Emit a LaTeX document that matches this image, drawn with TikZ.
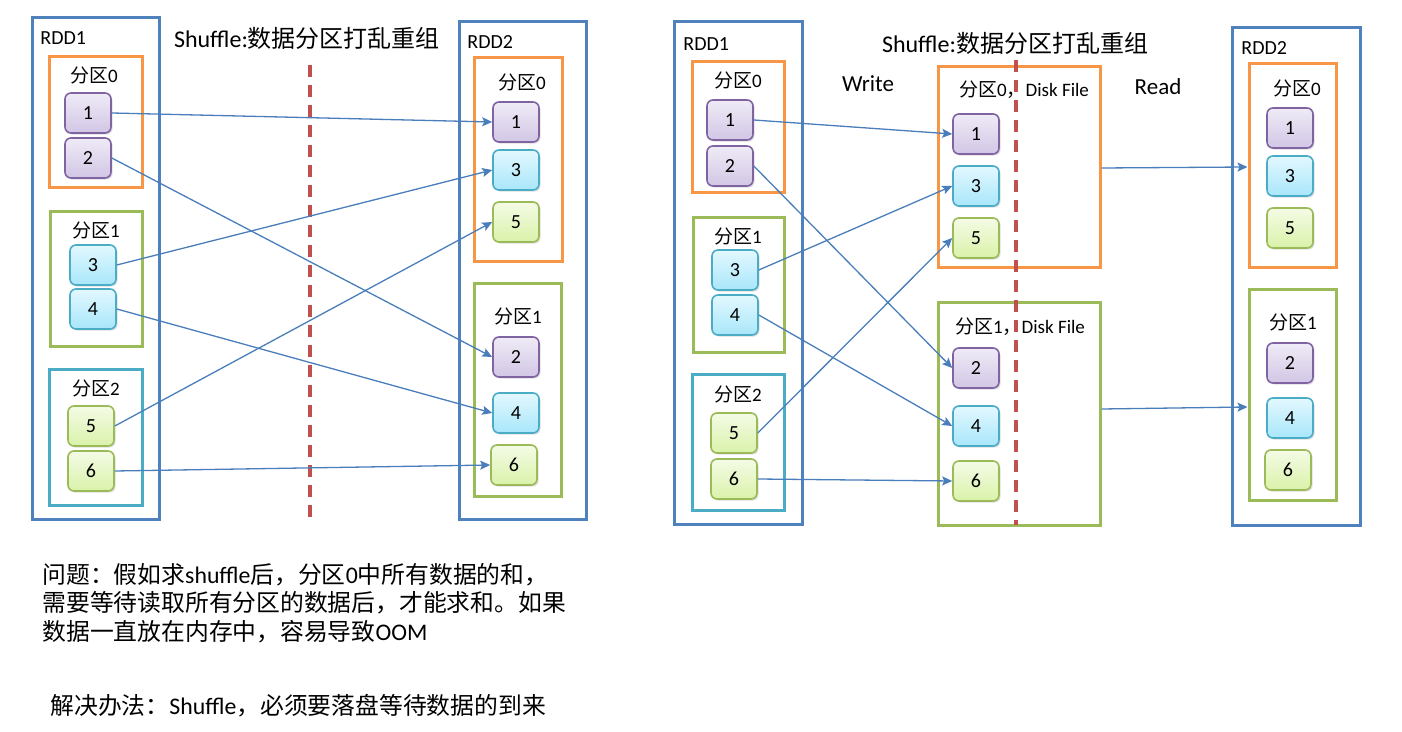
\documentclass[tikz,border=0pt]{standalone}
\usepackage{fontspec}
\setmainfont{Carlito}
\newfontfamily\cjk{Noto Sans CJK SC}
\usepackage{tikz}
\usetikzlibrary{arrows.meta,fit,shadows}
\usepackage{xcolor}
\definecolor{rddblue}{HTML}{4F81BD}
\definecolor{porange}{HTML}{F79646}
\definecolor{pgreen}{HTML}{9BBB59}
\definecolor{pteal}{HTML}{4BACC6}
\definecolor{cutred}{HTML}{C0504D}
\definecolor{linkblue}{HTML}{4A7EBB}
\definecolor{numpurple}{HTML}{8064A2}
\definecolor{purptop}{HTML}{EFEBF6}
\definecolor{purpbot}{HTML}{D2C6E5}
\definecolor{cyantop}{HTML}{E3F8FF}
\definecolor{cyanbot}{HTML}{A8E6FA}
\definecolor{greentop}{HTML}{F4FBE6}
\definecolor{greenbot}{HTML}{DAF2A9}

\begin{document}
\begin{tikzpicture}[
  x=0.5pt, y=-0.5pt,
  rdd/.style={draw=rddblue, line width=1.5pt, inner sep=0pt},
  part/.style={draw=#1, line width=1.5pt, inner sep=0pt},
  numbox/.style={rounded corners=3pt, line width=0.8pt, minimum width=23pt, minimum height=20pt, inner sep=0pt, font=\fontsize{10}{11}\selectfont, drop shadow={shadow xshift=0.8pt, shadow yshift=-0.8pt, opacity=0.25}},
  pnum/.style={numbox, draw=numpurple, top color=purptop, bottom color=purpbot},
  bnum/.style={numbox, draw=pteal, top color=cyantop, bottom color=cyanbot},
  gnum/.style={numbox, draw=pgreen, top color=greentop, bottom color=greenbot},
  plabel/.style={font=\fontsize{9.5}{11}\selectfont, inner sep=0pt},
  rddlabel/.style={anchor=west, font=\fontsize{10}{12}\selectfont, inner sep=0pt},
  title/.style={font=\fontsize{12}{14}\selectfont, inner sep=0pt},
  note/.style={anchor=west, align=left, font=\fontsize{11.9}{14.3}\selectfont, inner sep=0pt},
  link/.style={draw=linkblue, line width=0.65pt, -{Stealth[length=5pt,width=4.5pt,inset=1pt]}},
  cut/.style={draw=cutred, line width=1.7pt, dash pattern=on 6pt off 4pt},
]
\useasboundingbox (0,0) rectangle (1402,732);

% ---------- left: plain shuffle ----------
\node[rdd, fit={(32,18) (159,519)}] (lrdd1) {};
\node[rddlabel] (lrdd1lbl) at (40,38) {RDD1};
\node[part=porange, fit={(49,57) (142,188)}] (lp0) {};
\node[plabel] (lp0lbl) at (94,75) {{\cjk 分区}0};
\node[pnum] (la1) at (88,113) {1};
\node[pnum] (la2) at (88,158) {2};
\node[part=pgreen, fit={(50,212) (142,347)}] (lp1) {};
\node[plabel] (lp1lbl) at (96,230) {{\cjk 分区}1};
\node[bnum] (la3) at (93,265) {3};
\node[bnum] (la4) at (93,309) {4};
\node[part=pteal, fit={(49,370) (142,505)}] (lp2) {};
\node[plabel] (lp2lbl) at (96,388) {{\cjk 分区}2};
\node[gnum] (la5) at (91,426) {5};
\node[gnum] (la6) at (91,471) {6};

\node[rdd, fit={(459,22) (586,519)}] (lrdd2) {};
\node[rddlabel] (lrdd2lbl) at (467,42) {RDD2};
\node[part=porange, fit={(474,58) (562,262)}] (lq0) {};
\node[plabel] (lq0lbl) at (522,82) {{\cjk 分区}0};
\node[pnum] (lb1) at (516,122) {1};
\node[bnum] (lb3) at (516,170) {3};
\node[gnum] (lb5) at (516,222) {5};
\node[part=pgreen, fit={(474,284) (561,496)}] (lq1) {};
\node[plabel] (lq1lbl) at (518,316) {{\cjk 分区}1};
\node[pnum] (lb2) at (516,357) {2};
\node[bnum] (lb4) at (516,413) {4};
\node[gnum] (lb6) at (514,465) {6};

\node[title] (ltitle) at (307,38) {Shuffle:{\cjk 数据分区打乱重组}};
\draw[cut] (310,65) -- (310,520);

\draw[link] (la1.east) -- (lb1.west);
\draw[link] (la2.east) -- (lb2.west);
\draw[link] (la3.east) -- (lb3.west);
\draw[link] (la4.east) -- (lb4.west);
\draw[link] (la5.east) -- (lb5.west);
\draw[link] (la6.east) -- (lb6.west);

\node[note] (question) at (42,603) {{\cjk 问题：假如求}shuffle{\cjk 后，分区}0{\cjk 中所有数据的和，}\\{\cjk 需要等待读取所有分区的数据后，才能求和。如果}\\{\cjk 数据一直放在内存中，容易导致}OOM};
\node[note] (answer) at (50,706) {{\cjk 解决办法：}Shuffle{\cjk ，必须要落盘等待数据的到来}};

% ---------- right: shuffle with disk files ----------
\node[rdd, fit={(674,22) (802,524)}] (rrdd1) {};
\node[rddlabel] (rrdd1lbl) at (683,44) {RDD1};
\node[part=porange, fit={(692,62) (784,193)}] (rp0) {};
\node[plabel] (rp0lbl) at (738,80) {{\cjk 分区}0};
\node[pnum] (ra1) at (730,120) {1};
\node[pnum] (ra2) at (730,166) {2};
\node[part=pgreen, fit={(693,218) (784,353)}] (rp1) {};
\node[plabel] (rp1lbl) at (738,236) {{\cjk 分区}1};
\node[bnum] (ra3) at (735,270) {3};
\node[bnum] (ra4) at (735,315) {4};
\node[part=pteal, fit={(692,375) (784,510)}] (rp2) {};
\node[plabel] (rp2lbl) at (738,394) {{\cjk 分区}2};
\node[gnum] (ra5) at (734,433) {5};
\node[gnum] (ra6) at (734,479) {6};

\node[title] (rtitle) at (1015,43) {Shuffle:{\cjk 数据分区打乱重组}};
\node[title, font=\fontsize{11.5}{14}\selectfont] (write) at (868,84) {Write};
\node[title, font=\fontsize{11.5}{14}\selectfont] (read) at (1158,87) {Read};

\node[part=porange, fit={(938,67) (1100,268)}] (disk0) {};
\node[plabel] (disk0lbl) at (1024,90) {{\cjk 分区}0{\cjk ，}Disk File};
\node[pnum] (rm1) at (976,134) {1};
\node[bnum] (rm3) at (976,186) {3};
\node[gnum] (rm5) at (976,238) {5};
\node[part=pgreen, fit={(938,303) (1100,525)}] (disk1) {};
\node[plabel] (disk1lbl) at (1020,327) {{\cjk 分区}1{\cjk ，}Disk File};
\node[pnum] (rm2) at (976,368) {2};
\node[bnum] (rm4) at (976,426) {4};
\node[gnum] (rm6) at (976,481) {6};
\draw[cut] (1016,60) -- (1016,525);

\node[rdd, fit={(1232,28) (1360,525)}] (rrdd2) {};
\node[rddlabel] (rrdd2lbl) at (1241,48) {RDD2};
\node[part=porange, fit={(1249,64) (1336,268)}] (rq0) {};
\node[plabel] (rq0lbl) at (1297,88) {{\cjk 分区}0};
\node[pnum] (rb1) at (1290,128) {1};
\node[bnum] (rb3) at (1290,176) {3};
\node[gnum] (rb5) at (1290,228) {5};
\node[part=pgreen, fit={(1249,290) (1336,500)}] (rq1) {};
\node[plabel] (rq1lbl) at (1293,322) {{\cjk 分区}1};
\node[pnum] (rb2) at (1290,363) {2};
\node[bnum] (rb4) at (1290,418) {4};
\node[gnum] (rb6) at (1288,470) {6};

\draw[link] (ra1.east) -- (rm1.west);
\draw[link] (ra2.east) -- (rm2.west);
\draw[link] (ra3.east) -- (rm3.west);
\draw[link] (ra4.east) -- (rm4.west);
\draw[link] (ra5.east) -- (rm5.west);
\draw[link] (ra6.east) -- (rm6.west);
\draw[link] (disk0.east |- 0,168) -- (rq0.west |- 0,167);
\draw[link] (disk1.east |- 0,409) -- (rq1.west |- 0,407);
\end{tikzpicture}
\end{document}
